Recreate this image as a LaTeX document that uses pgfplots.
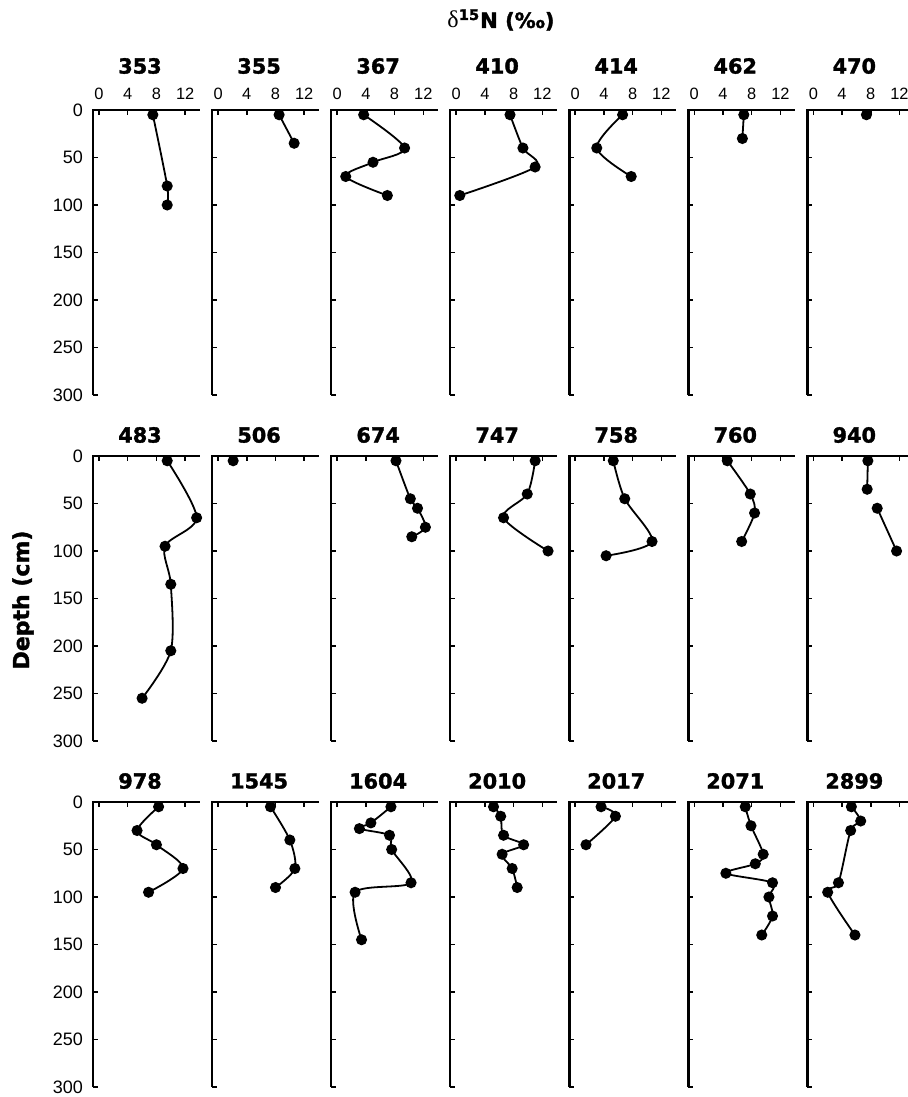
\documentclass[border=0pt]{standalone}
\usepackage{fontspec}
\setmainfont{Liberation Sans}
\newfontfamily\heavy[BoldFeatures={FakeBold=1.6}]{DejaVu Sans}
\newfontfamily\greekserif{Liberation Serif}
\usepackage{pgfplots}
\pgfplotsset{compat=1.18}
\pgfplotsset{
  panel/.style={
    scale only axis, width=53.25pt, height=142.5pt,
    anchor=north west,
    xmin=-0.84, xmax=14.0, ymin=0, ymax=300, y dir=reverse,
    xtick={0,4,8,12}, ytick={0,50,100,150,200,250,300},
    xtick pos=right, xticklabel pos=right,
    ytick pos=left, yticklabel pos=left,
    tick align=inside, major tick length=2.5pt,
    tick style={line width=0.75pt, black},
    axis line style={draw=none},
    clip=false,
    /pgf/number format/assume math mode=true,
    xticklabel style={font=\fontsize{8.2}{9}\selectfont, yshift=1.5pt},
    yticklabel style={font=\fontsize{9}{10}\selectfont, xshift=-1.5pt},
    extra description/.code={\draw[line width=1.3pt, line join=miter] (0,0) -- (0,1) -- (1,1);},
    every axis plot post/.append style={black, mark=*, mark options={solid, fill=black}, line width=0.9pt, mark size=2.3pt, smooth, tension=0.5},
  },
  nox/.style={xticklabels={}},
  noy/.style={yticklabels={}},
}
\newcommand{\ptitle}[3]{\node[font=\heavy\bfseries\fontsize{10.4}{12}\selectfont] at (#1+23.5pt,#2) {#3};}
\begin{document}
\begin{tikzpicture}
\path[use as bounding box] (0,0) rectangle (454pt,-548.5pt);
% ---------- Row 1 ----------
\begin{axis}[panel, at={(46.5pt,-55pt)}]
\addplot coordinates {(7.5,5) (9.5,80) (9.5,100)};
\end{axis}
\begin{axis}[panel, noy, at={(106.03pt,-55pt)}]
\addplot coordinates {(8.5,5) (10.6,35)};
\end{axis}
\begin{axis}[panel, noy, at={(165.55pt,-55pt)}]
\addplot coordinates {(3.7,5) (9.4,40) (5.0,55) (1.2,70) (7.0,90)};
\end{axis}
\begin{axis}[panel, noy, at={(225.08pt,-55pt)}]
\addplot coordinates {(7.5,5) (9.3,40) (11.0,60) (0.5,90)};
\end{axis}
\begin{axis}[panel, noy, at={(284.6pt,-55pt)}]
\addplot coordinates {(6.6,5) (3.0,40) (7.8,70)};
\end{axis}
\begin{axis}[panel, noy, at={(344.13pt,-55pt)}]
\addplot coordinates {(6.9,5) (6.7,30)};
\end{axis}
\begin{axis}[panel, noy, at={(403.65pt,-55pt)}]
\addplot coordinates {(7.4,5)};
\end{axis}
% ---------- Row 2 ----------
\begin{axis}[panel, nox, at={(46.5pt,-228pt)}]
\addplot coordinates {(9.5,5) (13.6,65) (9.2,95) (10.0,135) (10.0,205) (6.0,255)};
\end{axis}
\begin{axis}[panel, nox, noy, at={(106.03pt,-228pt)}]
\addplot coordinates {(2.1,5)};
\end{axis}
\begin{axis}[panel, nox, noy, at={(165.55pt,-228pt)}]
\addplot coordinates {(8.2,5) (10.2,45) (11.2,55) (12.3,75) (10.4,85)};
\end{axis}
\begin{axis}[panel, nox, noy, at={(225.08pt,-228pt)}]
\addplot coordinates {(11.0,5) (9.9,40) (6.6,65) (12.8,100)};
\end{axis}
\begin{axis}[panel, nox, noy, at={(284.6pt,-228pt)}]
\addplot coordinates {(5.3,5) (6.9,45) (10.7,90) (4.3,105)};
\end{axis}
\begin{axis}[panel, nox, noy, at={(344.13pt,-228pt)}]
\addplot coordinates {(4.6,5) (7.8,40) (8.4,60) (6.6,90)};
\end{axis}
\begin{axis}[panel, nox, noy, at={(403.65pt,-228pt)}]
\addplot coordinates {(7.6,5) (7.5,35)};
\addplot coordinates {(8.9,55) (11.6,100)};
\end{axis}
% ---------- Row 3 ----------
\begin{axis}[panel, nox, at={(46.5pt,-401pt)}]
\addplot coordinates {(8.3,5) (5.3,30) (8.0,45) (11.7,70) (6.9,95)};
\end{axis}
\begin{axis}[panel, nox, noy, at={(106.03pt,-401pt)}]
\addplot coordinates {(7.3,5) (10.0,40) (10.7,70) (8.0,90)};
\end{axis}
\begin{axis}[panel, nox, noy, at={(165.55pt,-401pt)}]
\addplot coordinates {(7.5,5) (4.7,22) (3.1,28) (7.3,35) (7.6,50) (10.3,85) (2.5,95) (3.4,145)};
\end{axis}
\begin{axis}[panel, nox, noy, at={(225.08pt,-401pt)}]
\addplot coordinates {(5.2,5) (6.2,15) (6.6,35) (9.4,45) (6.4,55) (7.8,70) (8.5,90)};
\end{axis}
\begin{axis}[panel, nox, noy, at={(284.6pt,-401pt)}]
\addplot coordinates {(3.6,5) (5.6,15) (1.5,45)};
\end{axis}
\begin{axis}[panel, nox, noy, at={(344.13pt,-401pt)}]
\addplot coordinates {(7.1,5) (7.9,25) (9.6,55) (8.5,65) (4.4,75) (10.9,85) (10.4,100) (10.9,120) (9.4,140)};
\end{axis}
\begin{axis}[panel, nox, noy, at={(403.65pt,-401pt)}]
\addplot coordinates {(5.3,5) (6.6,20) (5.2,30) (3.5,85) (2.0,95) (5.8,140)};
\end{axis}
% ---------- titles ----------
\ptitle{46.5pt}{-33pt}{353}
\ptitle{106.03pt}{-33pt}{355}
\ptitle{165.55pt}{-33pt}{367}
\ptitle{225.08pt}{-33pt}{410}
\ptitle{284.6pt}{-33pt}{414}
\ptitle{344.13pt}{-33pt}{462}
\ptitle{403.65pt}{-33pt}{470}
\ptitle{46.5pt}{-217.5pt}{483}
\ptitle{106.03pt}{-217.5pt}{506}
\ptitle{165.55pt}{-217.5pt}{674}
\ptitle{225.08pt}{-217.5pt}{747}
\ptitle{284.6pt}{-217.5pt}{758}
\ptitle{344.13pt}{-217.5pt}{760}
\ptitle{403.65pt}{-217.5pt}{940}
\ptitle{46.5pt}{-390.5pt}{978}
\ptitle{106.03pt}{-390.5pt}{1545}
\ptitle{165.55pt}{-390.5pt}{1604}
\ptitle{225.08pt}{-390.5pt}{2010}
\ptitle{284.6pt}{-390.5pt}{2017}
\ptitle{344.13pt}{-390.5pt}{2071}
\ptitle{403.65pt}{-390.5pt}{2899}
\node[font=\fontsize{10.5}{12}\selectfont] at (250.5pt,-10pt) {{\greekserif\fontsize{12}{12}\selectfont δ}{\heavy\bfseries\textsuperscript{15}N (‰)}};
\node[rotate=90, font=\heavy\bfseries\fontsize{11}{13}\selectfont] at (11.5pt,-300pt) {Depth (cm)};
\end{tikzpicture}
\end{document}
